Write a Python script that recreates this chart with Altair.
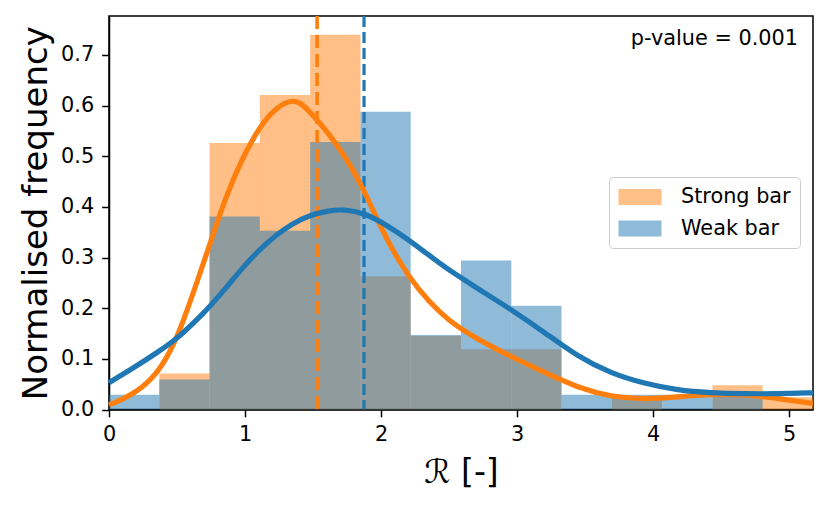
import altair as alt
import pandas as pd

# ---- data ----
bin_edges = [0.0, 0.370, 0.739, 1.109, 1.479, 1.849, 2.218, 2.588, 2.958,
             3.327, 3.697, 4.067, 4.437, 4.806, 5.176]
strong_density = [0.0, 0.071, 0.526, 0.621, 0.740, 0.263, 0.145, 0.119, 0.119,
                  0.0, 0.024, 0.0, 0.048, 0.024]
weak_density = [0.029, 0.059, 0.381, 0.353, 0.528, 0.588, 0.147, 0.294, 0.205,
                0.029, 0.029, 0.029, 0.029, 0.0]

strong_kde_x = [0.0, 0.174, 0.364, 0.489, 0.567, 0.664, 0.733, 0.86, 0.982, 1.104,
                1.226, 1.373, 1.47, 1.617, 1.763, 1.873, 1.959, 2.056, 2.203, 2.35,
                2.496, 2.642, 2.75, 2.96, 3.204, 3.448, 3.692, 3.937, 4.181, 4.425,
                4.67, 4.913, 5.176]
strong_kde_y = [0.009, 0.028, 0.071, 0.135, 0.19, 0.265, 0.32, 0.422, 0.497, 0.557,
                0.597, 0.616, 0.590, 0.545, 0.489, 0.433, 0.383, 0.328, 0.262, 0.213,
                0.176, 0.150, 0.133, 0.104, 0.073, 0.043, 0.025, 0.020, 0.025, 0.030,
                0.030, 0.022, 0.012]

weak_kde_x = [0.0, 0.174, 0.364, 0.489, 0.567, 0.664, 0.733, 0.86, 0.982, 1.104,
              1.226, 1.348, 1.47, 1.617, 1.727, 1.873, 2.056, 2.203, 2.35, 2.496,
              2.642, 2.75, 2.96, 3.204, 3.448, 3.692, 3.937, 4.181, 4.425, 4.67,
              4.913, 5.176]
weak_kde_y = [0.053, 0.081, 0.114, 0.138, 0.157, 0.182, 0.201, 0.240, 0.280, 0.315,
              0.344, 0.367, 0.383, 0.393, 0.395, 0.389, 0.362, 0.335, 0.305, 0.276,
              0.251, 0.232, 0.197, 0.152, 0.104, 0.071, 0.051, 0.038, 0.033, 0.031,
              0.031, 0.033]

series_names = ["Strong bar", "Weak bar"]
series_colors = ["#ff7f0e", "#1f77b4"]
medians = [1.53, 1.875]
p_value_text = "p-value = 0.001"

# ---- tables ----
rows = []
for name, dens in zip(series_names, [strong_density, weak_density]):
    for i, d in enumerate(dens):
        rows.append({"series": name, "x0": bin_edges[i], "x1": bin_edges[i + 1], "density": d})
bars_df = pd.DataFrame(rows)
strong_df = pd.DataFrame({"x": strong_kde_x, "y": strong_kde_y})
weak_df = pd.DataFrame({"x": weak_kde_x, "y": weak_kde_y})
med_strong = pd.DataFrame({"x": [medians[0]]})
med_weak = pd.DataFrame({"x": [medians[1]]})

W, H = 704, 393.5
FONT = "DejaVu Sans"

xscale = alt.Scale(domain=[0, 5.176], nice=False, zero=False)
yscale = alt.Scale(domain=[0, 0.777], nice=False)

xaxis = alt.Axis(
    values=[0, 1, 2, 3, 4, 5], format="d", title="ℛ [-]", grid=False,
    labelFlush=False,
    titleFontSize=33, titleFontWeight="normal", titleX=352, titleY=72.5,
    titleBaseline="alphabetic", titleAlign="center",
)
yaxis = alt.Axis(
    values=[0, 0.1, 0.2, 0.3, 0.4, 0.5, 0.6, 0.7], format=".1f",
    title="Normalised frequency", grid=False, labelFlush=False,
    titleFontSize=34, titleFontWeight="normal", titleX=-62.3, titleY=196.75,
    titleAngle=270, titleAlign="center", titleBaseline="alphabetic",
)

bars = alt.Chart(bars_df).mark_rect(opacity=0.5, strokeWidth=0).encode(
    x=alt.X("x0:Q", scale=xscale, axis=xaxis),
    x2="x1:Q",
    y=alt.Y("density:Q", scale=yscale, axis=yaxis),
    y2=alt.datum(0),
    color=alt.Color(
        "series:N",
        scale=alt.Scale(domain=series_names, range=series_colors),
        legend=alt.Legend(
            title=None, orient="none", legendX=500, legendY=161,
            symbolType="M-2,-0.744H2V0.744H-2Z", symbolSize=462,
            symbolOpacity=0.5, symbolStrokeWidth=0, symbolOffset=11,
            labelFontSize=20.8, labelFont=FONT, labelColor="black",
            labelOffset=30, padding=9, rowPadding=10.5,
            fillColor="rgba(255,255,255,0.8)", strokeColor="#cccccc",
            cornerRadius=4,
        ),
    ),
    order=alt.Order("series:N"),
)

rule_strong = alt.Chart(med_strong).mark_rule(
    color=series_colors[0], strokeWidth=3.6, strokeDash=[13, 6]
).encode(x=alt.X("x:Q", scale=xscale), y=alt.value(0), y2=alt.value(H))
rule_weak = alt.Chart(med_weak).mark_rule(
    color=series_colors[1], strokeWidth=3.2, strokeDash=[11, 5]
).encode(x=alt.X("x:Q", scale=xscale), y=alt.value(0), y2=alt.value(H))

line_strong = alt.Chart(strong_df).mark_line(
    color=series_colors[0], strokeWidth=5.2, interpolate="basis"
).encode(x=alt.X("x:Q", scale=xscale), y=alt.Y("y:Q", scale=yscale))
line_weak = alt.Chart(weak_df).mark_line(
    color=series_colors[1], strokeWidth=5.2, interpolate="basis"
).encode(x=alt.X("x:Q", scale=xscale), y=alt.Y("y:Q", scale=yscale))

ptext = alt.Chart(pd.DataFrame({"t": [p_value_text]})).mark_text(
    align="right", baseline="alphabetic", fontSize=20.8, font=FONT, color="black"
).encode(text="t:N", x=alt.value(689), y=alt.value(29))

chart = alt.layer(
    bars, rule_strong, rule_weak, line_strong, line_weak, ptext
).properties(
    width=W, height=H,
    autosize=alt.AutoSizeParams(type="none"),
    padding={"left": 101, "top": 8, "right": 9, "bottom": 88},
).configure(
    font=FONT
).configure_view(
    stroke="black", strokeWidth=1.5
).configure_axis(
    labelFont=FONT, titleFont=FONT, labelFontSize=20.8, labelColor="black",
    titleColor="black", tickColor="black", domainColor="black",
    tickSize=7.3, tickWidth=1.5, domainWidth=1.5, labelPadding=8,
)

chart.save("out.html", embed_options={"renderer": "svg", "actions": False})
